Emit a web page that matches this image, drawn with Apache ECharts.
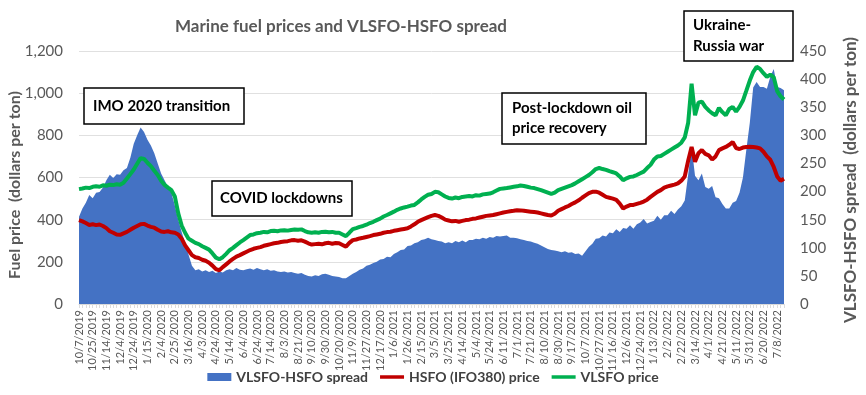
<!DOCTYPE html>
<html><head><meta charset="utf-8">
<script src="https://cdn.jsdelivr.net/npm/echarts@6/dist/echarts.min.js"></script>
<style>html,body{margin:0;padding:0;background:#fff}#c{width:866px;height:395px}</style>
</head><body><div id="c"></div>
<script>
const dateLabels = ['10/7/2019','10/25/2019','11/14/2019','12/4/2019','12/24/2019','1/15/2020','2/4/2020','2/25/2020','3/16/2020','4/3/2020','4/24/2020','5/14/2020','6/4/2020','6/24/2020','7/14/2020','8/3/2020','8/21/2020','9/10/2020','9/30/2020','10/20/2020','11/9/2020','11/27/2020','12/17/2020','1/6/2021','1/26/2021','2/15/2021','3/5/2021','3/25/2021','4/14/2021','5/4/2021','5/24/2021','6/11/2021','7/1/2021','7/21/2021','8/10/2021','8/30/2021','9/17/2021','10/7/2021','10/27/2021','11/16/2021','12/6/2021','12/24/2021','1/13/2022','2/2/2022','2/22/2022','3/14/2022','4/1/2022','4/21/2022','5/11/2022','5/31/2022','6/20/2022','7/8/2022'];

const vlsfo = [
545,548,552,550,556,558,556,563,561,566,564,568,566,575,595,616,638,665,692,688,
670,654,632,612,585,565,552,540,510,430,372,338,310,300,290,284,274,266,258,240,
220,212,222,238,255,266,279,292,303,315,327,330,336,338,342,340,346,347,345,349,
350,348,351,353,352,354,346,340,338,340,338,342,343,340,342,338,338,330,322,338,
355,360,366,370,376,384,390,398,405,415,422,430,438,447,453,458,462,467,470,482,
496,508,518,522,532,530,520,510,503,500,505,502,508,510,512,510,516,514,520,522,
524,530,538,546,548,550,553,556,558,562,560,556,552,550,545,540,534,528,522,528,
540,546,552,558,564,572,582,592,602,612,625,640,645,640,636,630,625,619,605,587,
596,603,605,612,620,628,645,660,685,700,702,712,722,732,742,752,765,790,860,1045,
895,955,960,935,918,905,895,930,910,895,925,935,912,935,965,1012,1060,1100,1125,1115,
1095,1077,1088,1075,1010,985,970];

const hsfo = [
398,392,384,375,378,374,377,370,360,345,338,330,328,335,342,352,362,370,378,380,
372,366,362,352,344,342,345,340,338,330,310,278,255,232,222,218,210,205,196,182,
165,160,175,188,202,214,225,232,240,248,256,262,266,270,276,280,284,288,290,294,
296,298,302,303,300,302,296,288,282,284,286,283,288,290,286,289,288,280,272,290,
303,306,311,314,318,322,327,330,333,338,341,343,347,350,353,356,359,368,378,390,
398,405,412,418,422,418,410,400,396,392,394,390,394,398,400,404,406,410,414,418,
420,422,426,430,434,437,440,442,445,444,442,440,438,436,434,430,426,422,420,428,
442,450,458,465,474,482,492,504,515,526,532,533,528,518,508,504,500,494,476,453,
462,469,470,475,480,486,495,508,520,532,540,552,558,562,566,572,585,605,680,745,
675,715,730,712,705,685,700,730,738,745,755,768,740,735,742,745,746,745,742,738,
722,700,684,650,605,585,594];

const spread = [
155,170,180,194,188,198,199,207,220,230,224,231,230,238,242,260,285,300,314,306,
292,282,268,250,232,220,208,198,175,150,128,108,88,68,60,62,58,60,57,59,
55,58,56,60,62,60,64,61,60,62,63,61,64,62,60,62,59,60,58,57,
58,56,57,55,54,55,52,50,49,51,50,53,54,52,50,49,48,46,46,50,
54,57,61,63,68,70,73,75,79,80,84,83,89,92,96,97,103,104,108,110,
114,115,118,115,114,112,111,108,110,108,112,110,113,110,114,114,116,115,118,116,
119,118,121,120,121,122,118,118,117,115,114,112,111,109,107,104,101,98,96,95,
94,92,94,91,92,89,90,86,94,102,107,116,117,122,120,127,126,133,128,135,
134,140,134,142,145,151,143,146,148,157,150,158,158,166,160,168,174,184,230,280,
228,220,232,208,205,210,190,188,178,170,170,180,183,198,225,275,322,385,395,386,
386,383,404,418,386,384,380];

const leftTicks = {min: 0, max: 1200, interval: 200};
const rightTicks = {min: 0, max: 450, interval: 50};

// category list: each labelled date followed by unlabelled intermediate points
const pointsPerLabel = 4;
const categories = [];
dateLabels.forEach(d => { categories.push(d); for (let k = 1; k < pointsPerLabel; k++) categories.push(''); });
while (categories.length > spread.length) categories.pop();
while (categories.length < spread.length) categories.push('');

const FONT = 'Lato';
const LINE_ICON = 'path://M0,0 L24,0 L24,3.5 L0,3.5 Z';
const chart = echarts.init(document.getElementById('c'), null, {renderer: 'canvas'});
chart.setOption({
  animation: false,
  backgroundColor: '#fff',
  textStyle: {fontFamily: FONT},
  title: {
    text: 'Marine fuel prices and VLSFO-HSFO spread',
    left: 170, top: 13,
    textStyle: {fontFamily: FONT, fontSize: 17, fontWeight: 'bold', color: '#595959'}
  },
  grid: {left: 79, right: 82, top: 51, bottom: 91, containLabel: false},
  legend: {
    bottom: 6, left: 'center',
    itemWidth: 24, itemHeight: 8, itemGap: 12,
    textStyle: {fontFamily: FONT, fontSize: 14, fontWeight: 'bold', color: '#404040'},
    data: [
      {name: 'VLSFO-HSFO spread', icon: 'rect'},
      {name: 'HSFO (IFO380) price', icon: LINE_ICON},
      {name: 'VLSFO price', icon: LINE_ICON}
    ]
  },
  xAxis: {
    type: 'category', data: categories, boundaryGap: false,
    axisLine: {lineStyle: {color: '#d9d9d9'}},
    axisTick: {show: true, interval: 0, length: 4, lineStyle: {color: '#dcdcdc'}},
    axisLabel: {interval: 0, rotate: 90, margin: 6, fontSize: 11, color: '#595959', fontFamily: FONT}
  },
  yAxis: [
    {type: 'value', min: leftTicks.min, max: leftTicks.max, interval: leftTicks.interval,
     axisLine: {show: false}, axisTick: {show: false},
     splitLine: {lineStyle: {color: '#e0e0e0', width: 1}},
     axisLabel: {margin: 16, fontSize: 15, color: '#595959', fontFamily: FONT,
                 formatter: v => v.toLocaleString('en-US')}},
    {type: 'value', min: rightTicks.min, max: rightTicks.max, interval: rightTicks.interval,
     axisLine: {show: false}, axisTick: {show: false}, splitLine: {show: false},
     axisLabel: {margin: 16, fontSize: 15, color: '#595959', fontFamily: FONT}}
  ],
  series: [
    {name: 'VLSFO-HSFO spread', type: 'line', yAxisIndex: 1, data: spread, symbol: 'none',
     lineStyle: {width: 0}, itemStyle: {color: '#4472C4'},
     areaStyle: {color: '#4472C4', opacity: 1}, z: 1},
    {name: 'HSFO (IFO380) price', type: 'line', data: hsfo, symbol: 'none',
     lineStyle: {width: 4, color: '#C00000'}, itemStyle: {color: '#C00000'}, z: 3},
    {name: 'VLSFO price', type: 'line', data: vlsfo, symbol: 'none',
     lineStyle: {width: 4, color: '#00B050'}, itemStyle: {color: '#00B050'}, z: 4}
  ],
  graphic: [
    {type: 'text', x: 15, y: 185, rotation: Math.PI / 2, z: 100,
     style: {text: 'Fuel price  (dollars per ton)', align: 'center', verticalAlign: 'middle',
             font: 'bold 16px ' + FONT, fill: '#595959'}},
    {type: 'text', x: 851, y: 180, rotation: Math.PI / 2, z: 100,
     style: {text: 'VLSFO-HSFO spread  (dollars per ton)', align: 'center', verticalAlign: 'middle',
             font: 'bold 17px ' + FONT, fill: '#595959'}},
    {type: 'rect', z: 100, shape: {x: 84, y: 88, width: 160, height: 36},
     style: {fill: '#fff', stroke: '#000', lineWidth: 1.5}},
    {type: 'text', x: 93, y: 106, z: 101,
     style: {text: 'IMO 2020 transition', align: 'left', verticalAlign: 'middle', font: 'bold 15px ' + FONT, fill: '#000'}},
    {type: 'rect', z: 100, shape: {x: 212, y: 181, width: 140, height: 35},
     style: {fill: '#fff', stroke: '#000', lineWidth: 1.5}},
    {type: 'text', x: 220, y: 198.5, z: 101,
     style: {text: 'COVID lockdowns', align: 'left', verticalAlign: 'middle', font: 'bold 15px ' + FONT, fill: '#000'}},
    {type: 'rect', z: 100, shape: {x: 502, y: 93, width: 144, height: 51},
     style: {fill: '#fff', stroke: '#000', lineWidth: 1.5}},
    {type: 'text', x: 512, y: 108, z: 101,
     style: {text: 'Post-lockdown oil', align: 'left', verticalAlign: 'middle', font: 'bold 15px ' + FONT, fill: '#000'}},
    {type: 'text', x: 512, y: 128, z: 101,
     style: {text: 'price recovery', align: 'left', verticalAlign: 'middle', font: 'bold 15px ' + FONT, fill: '#000'}},
    {type: 'rect', z: 100, shape: {x: 684, y: 11, width: 109, height: 50},
     style: {fill: '#fff', stroke: '#000', lineWidth: 1.5}},
    {type: 'text', x: 693, y: 25, z: 101,
     style: {text: 'Ukraine-', align: 'left', verticalAlign: 'middle', font: 'bold 15px ' + FONT, fill: '#000'}},
    {type: 'text', x: 693, y: 46.5, z: 101,
     style: {text: 'Russia war', align: 'left', verticalAlign: 'middle', font: 'bold 15px ' + FONT, fill: '#000'}}
  ]
});
</script></body></html>
